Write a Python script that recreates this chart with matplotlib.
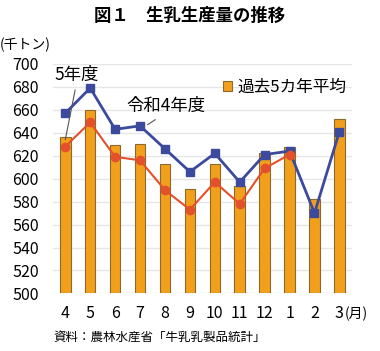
import matplotlib
matplotlib.use('Agg')
import matplotlib.pyplot as plt

plt.rcParams['font.family'] = ['Noto Sans CJK JP', 'DejaVu Sans']

# データ（千トン）
months = ['4', '5', '6', '7', '8', '9', '10', '11', '12', '1', '2', '3']
avg5 = [636, 660, 629, 630, 613, 591, 613, 594, 622, 628, 582, 652]   # 過去5カ年平均
r4 = [657, 679, 643, 646, 626, 606, 622, 597, 621, 624, 570, 641]     # 令和4年度
r5 = [628, 649, 619, 616, 590, 573, 597, 578, 609, 621]               # 5年度

fig = plt.figure(figsize=(3.8, 3.51), dpi=100)
ax = fig.add_axes([0.139, 0.164, 0.787, 0.654])

x = list(range(len(months)))
ax.bar(x, [v - 500 for v in avg5], bottom=500, width=0.42, color='#F2A01C',
       edgecolor='#8C6A2E', linewidth=0.8, zorder=2, label='過去5カ年平均')
ax.plot(x, r4, color='#3C4A9E', lw=2, marker='s', ms=6, zorder=3)
ax.plot(x[:len(r5)], r5, color='#E4502A', lw=1.5, marker='o', ms=6, zorder=4)

ax.set_xlim(-0.5, 11.5)
ax.set_ylim(500, 700)
ax.set_yticks(range(500, 701, 20))
ax.set_xticks(x)
ax.set_xticklabels(months)
ax.tick_params(length=0, labelsize=11.5)
ax.tick_params(axis='y', pad=10)
ax.tick_params(axis='x', pad=8)
ax.grid(axis='y', color='#E6E6E6', lw=1, zorder=0)
for s in ax.spines.values():
    s.set_visible(False)

leg = ax.legend(loc='upper right', bbox_to_anchor=(1.02, 0.985), frameon=False,
                fontsize=12, handlelength=0.55, handleheight=0.55, handletextpad=0.3,
                borderaxespad=0.3)

ax.annotate('5年度', xy=(0.0, 634), xytext=(-0.45, 690), fontsize=12.5,
            ha='left', va='center',
            arrowprops=dict(arrowstyle='-', color='#555555', lw=0.8,
                            shrinkA=2, shrinkB=0, relpos=(0.5, 0)))
ax.annotate('令和4年度', xy=(3.3, 647), xytext=(2.45, 663), fontsize=12.5,
            ha='left', va='center',
            arrowprops=dict(arrowstyle='-', color='#555555', lw=0.8,
                            shrinkA=2, shrinkB=0, relpos=(0.45, 0)))

fig.text(0.5, 0.955, '図１　生乳生産量の推移', ha='center', va='center',
         fontsize=12.5, fontweight='bold')
fig.text(0.0, 0.872, '(千トン)', ha='left', va='center', fontsize=10)
fig.text(0.908, 0.107, '(月)', ha='left', va='center', fontsize=10)
fig.text(0.14, 0.04, '資料：農林水産省「牛乳乳製品統計」', ha='left', va='center',
         fontsize=9)

fig.savefig('out.png', dpi=100)
